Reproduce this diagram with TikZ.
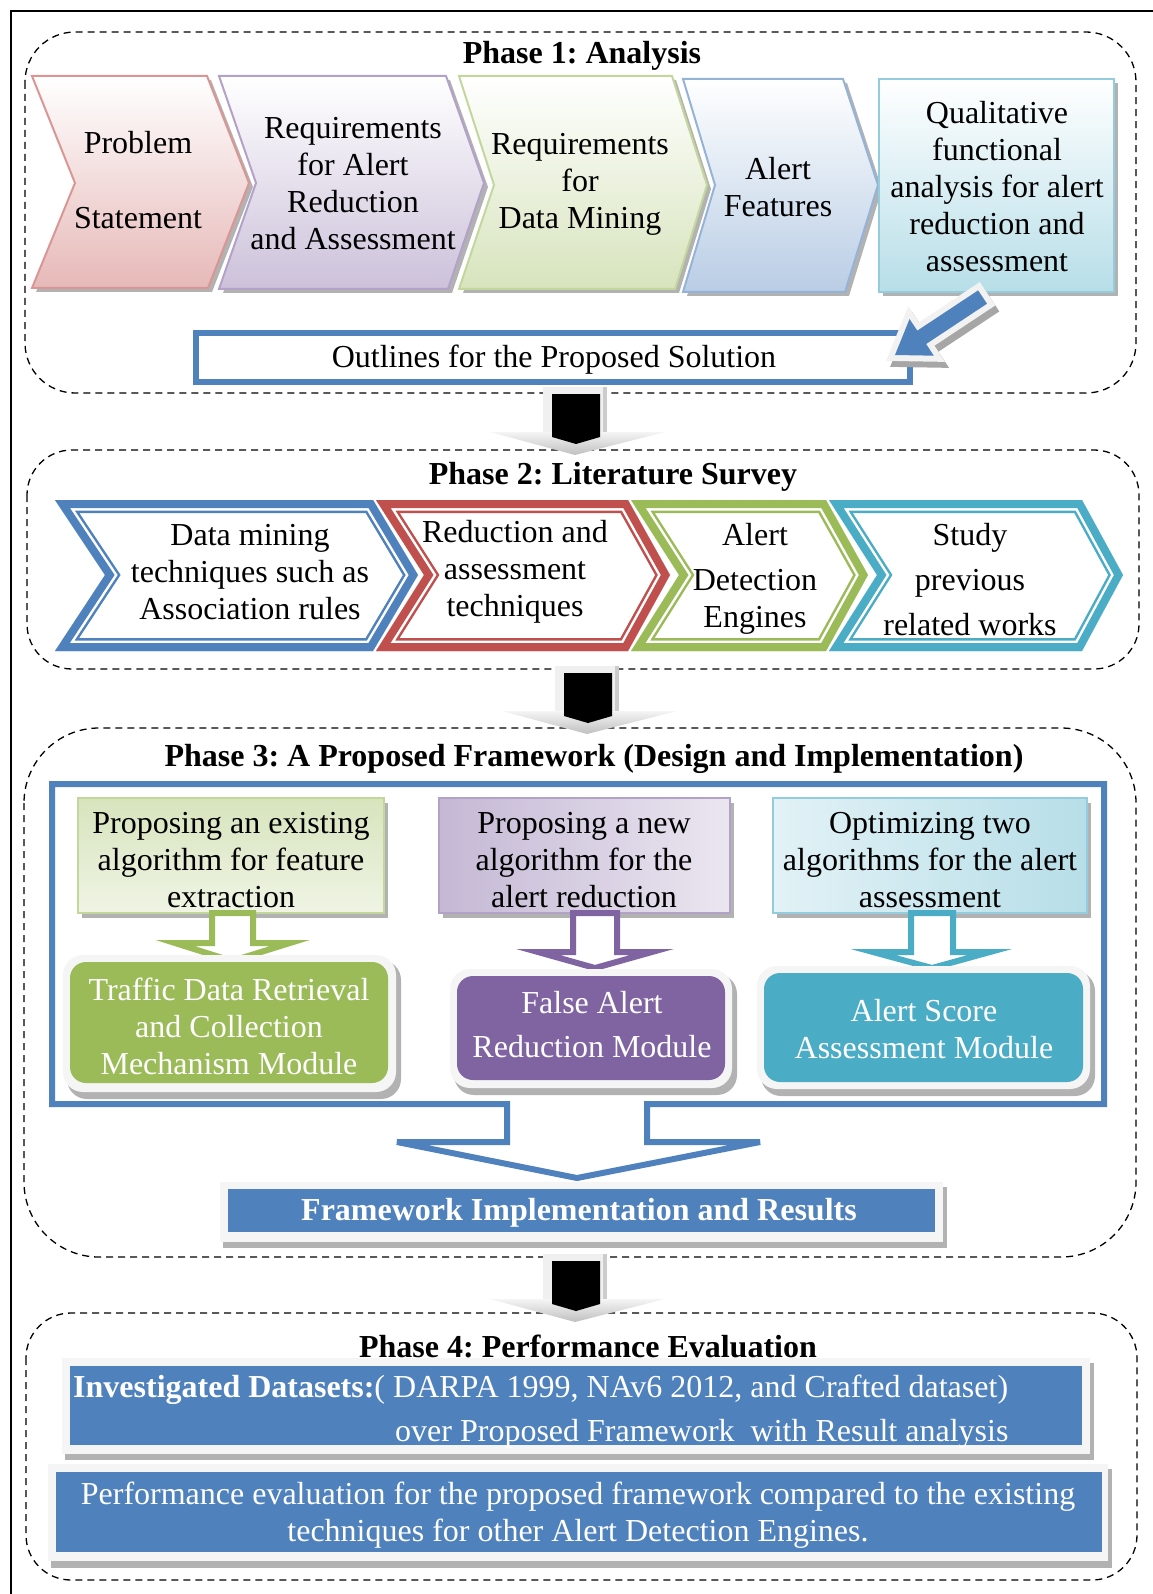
\documentclass[tikz,border=0pt]{standalone}
\usepackage{fontspec}
\setmainfont{Liberation Serif}
\usepackage{tikz}
\usetikzlibrary{positioning}
\frenchspacing
\definecolor{phblue}{HTML}{4F81BD}
\definecolor{phred}{HTML}{C0504D}
\definecolor{phgreen}{HTML}{9BBB59}
\definecolor{phpurple}{HTML}{8064A2}
\definecolor{phcyan}{HTML}{4BACC6}
\definecolor{pkfill}{HTML}{E6B9B8}
\definecolor{pkline}{HTML}{D99694}
\definecolor{pufill}{HTML}{CCC1DA}
\definecolor{puline}{HTML}{B3A2C7}
\definecolor{grfill}{HTML}{D7E4BD}
\definecolor{grline}{HTML}{C3D69B}
\definecolor{blfill}{HTML}{B9CDE5}
\definecolor{blline}{HTML}{95B3D7}
\definecolor{cyfill}{HTML}{B7DEE8}
\definecolor{cyline}{HTML}{93CDDD}

\newcommand{\litchev}[2]{%
  \begin{scope}
  \clip #2;
  \fill[white] #2;
  \draw[#1, line width=26pt, line join=miter] #2;
  \draw[white, line width=21pt, line join=miter] #2;
  \draw[#1, line width=16pt, line join=miter] #2;
  \end{scope}}

\newcommand{\phasearrow}[2]{%
  \begin{scope}[shift={(#1,#2)}]
  \fill[gray!12] (-32,0) rectangle (32,46);
  \fill[gray!40] (28,0) rectangle (32,46);
  \shade[top color=gray!8, bottom color=gray!50] (-85,45) -- (90,45) -- (0,68) -- cycle;
  \fill[black] (-23,7) -- (25,7) -- (25,50) -- (1,57) -- (-23,50) -- cycle;
  \end{scope}}

\begin{document}
\begin{tikzpicture}[x=1pt,y=-1pt,
  lbl/.style={align=center, inner sep=0pt, font=\fontsize{32}{37}\selectfont},
  ttl/.style={align=center, inner sep=0pt, font=\fontsize{32}{37}\selectfont\bfseries},
  phasebox/.style={dash pattern=on 7pt off 5pt, line width=1.3pt},
  shadow/.style={fill=black!30}]
    \useasboundingbox (0,0) rectangle (1152,1594);
    \draw[line width=2.5pt] (11,1610) -- (11,11) -- (1160,11);

    \draw[phasebox, rounded corners=50pt] (25,32) rectangle (1136,393);
    \draw[phasebox, rounded corners=45pt] (27,450) rectangle (1139,669);
    \draw[phasebox, rounded corners=75pt] (24,728) rectangle (1136,1257);
    \draw[phasebox, rounded corners=45pt] (26,1313) rectangle (1137,1580);

    \node[ttl] (ph1) at (582,56) {Phase 1: Analysis};
    \begin{scope}[shift={(4,4)}]
    \fill[black!30] (32,76) -- (207,76) -- (249,183) -- (208,288) -- (32,288) -- (75,183) -- cycle;
    \fill[black!30] (219,76) -- (446,76) -- (484,183) -- (448,289) -- (219,289) -- (256,183) -- cycle;
    \fill[black!30] (459,76) -- (672,76) -- (707,185) -- (675,289) -- (459,289) -- (494,185) -- cycle;
    \fill[black!30] (683,79) -- (843,79) -- (878,185) -- (845,292) -- (683,292) -- (715,185) -- cycle;
    \fill[black!30] (879,79) rectangle (1114,292);
    \end{scope}
    \draw[pkline, line width=2pt, top color=white, bottom color=pkfill] (32,76) -- (207,76) -- (249,183) -- (208,288) -- (32,288) -- (75,183) -- cycle;
    \draw[puline, line width=2pt, top color=white, bottom color=pufill] (219,76) -- (446,76) -- (484,183) -- (448,289) -- (219,289) -- (256,183) -- cycle;
    \draw[grline, line width=2pt, top color=white, bottom color=grfill] (459,76) -- (672,76) -- (707,185) -- (675,289) -- (459,289) -- (494,185) -- cycle;
    \draw[blline, line width=2pt, top color=white, bottom color=blfill] (683,79) -- (843,79) -- (878,185) -- (845,292) -- (683,292) -- (715,185) -- cycle;
    \draw[cyline, line width=2pt, top color=white, bottom color=cyfill] (879,79) rectangle (1114,292);
    \node[lbl] (prob) at (138,180) {Problem\\[38pt]Statement};
    \node[lbl] (reqalert) at (353,184) {Requirements\\for Alert\\Reduction\\and Assessment};
    \node[lbl] (reqdm) at (580,184) {Requirements\\for\\Data Mining};
    \node[lbl] (feat) at (778,187) {Alert\\Features};
    \node[lbl] (qual) at (997,187) {Qualitative\\functional\\analysis for alert\\reduction and\\assessment};

    \draw[phblue, line width=6pt] (196,333) rectangle (910,382);
    \node[lbl] (outl) at (554,360) {Outlines for the Proposed Solution};
    \begin{scope}[shift={(899,361)}, rotate=33.5]
    \draw[black!35, line width=12pt, line join=miter, fill=black!35] (0,0) -- (32,22) -- (32,8) -- (105,8) -- (105,-8) -- (32,-8) -- (32,-22) -- cycle;
    \end{scope}
    \begin{scope}[shift={(895,355)}, rotate=33.5]
    \draw[gray!10, line width=12pt, line join=miter] (0,0) -- (32,22) -- (32,8) -- (105,8) -- (105,-8) -- (32,-8) -- (32,-22) -- cycle;
    \fill[phblue] (0,0) -- (32,22) -- (32,8) -- (105,8) -- (105,-8) -- (32,-8) -- (32,-22) -- cycle;
    \end{scope}

    \node[ttl] (ph2) at (613,477) {Phase 2: Literature Survey};
    \litchev{phblue}{(55,500) -- (373,500) -- (418,575) -- (373,651) -- (55,651) -- (105,575) -- cycle}
    \litchev{phred}{(376,500) -- (628,500) -- (670,575) -- (628,651) -- (376,651) -- (424,575) -- cycle}
    \litchev{phgreen}{(631,500) -- (826,500) -- (868,575) -- (826,651) -- (631,651) -- (679,575) -- cycle}
    \litchev{phcyan}{(829,500) -- (1082,500) -- (1123,575) -- (1082,651) -- (829,651) -- (877,575) -- cycle}
    \node[lbl] (dmt) at (250,572) {Data mining\\techniques such as\\Association rules};
    \node[lbl] (redt) at (515,572) {Reduction and\\assessment\\techniques};
    \node[lbl] (ade) at (755,579) {Alert\\[8pt]Detection\\Engines};
    \node[lbl] (study) at (970,580) {Study\\[8pt]previous\\[8pt]related works};

    \node[ttl] (ph3) at (594,759) {Phase 3: A Proposed Framework (Design and Implementation)};
    \draw[phblue, line width=6pt] (507,1104) -- (52,1104) -- (52,784) -- (1104,784) -- (1104,1104) -- (647,1104) -- (647,1142) -- (760,1142) -- (577,1178) -- (397,1142) -- (507,1142) -- cycle;
    \fill[black!30] (82,803) rectangle (388,918);
    \fill[black!30] (443,803) rectangle (734,918);
    \fill[black!30] (777,803) rectangle (1091,918);
    \draw[grline, line width=1.5pt, top color=grfill, bottom color=grfill!40] (78,798) rectangle (384,913);
    \draw[puline, line width=1.5pt, left color=pufill!90!phpurple, right color=pufill!40] (439,798) rectangle (730,913);
    \draw[cyline, line width=1.5pt, left color=cyfill!40, right color=cyfill] (773,798) rectangle (1087,913);
    \node[lbl] (pe) at (231,860) {Proposing an existing\\algorithm for feature\\extraction};
    \node[lbl] (pn) at (584,860) {Proposing a new\\algorithm for the\\alert reduction};
    \node[lbl] (ot) at (930,860) {Optimizing two\\algorithms for the alert\\assessment};
    \draw[phgreen, line width=6pt, fill=white] (212,913) -- (212,943) -- (175,943) -- (232,961) -- (290,943) -- (253,943) -- (253,913) -- cycle;
    \draw[phpurple, line width=6pt, fill=white] (573,913) -- (573,952) -- (538,952) -- (595,968) -- (652,952) -- (617,952) -- (617,913) -- cycle;
    \draw[phcyan, line width=6pt, fill=white] (911,913) -- (911,952) -- (873,952) -- (932,968) -- (990,952) -- (953,952) -- (953,913) -- cycle;

    \fill[black!30, rounded corners=20pt] (67,960) rectangle (401,1099);
    \fill[gray!8, rounded corners=20pt] (63,955) rectangle (396,1092);
    \fill[phgreen, rounded corners=16pt] (70,962) rectangle (388,1083);
    \fill[black!30, rounded corners=20pt] (454,974) rectangle (737,1095);
    \fill[gray!8, rounded corners=20pt] (450,969) rectangle (732,1088);
    \fill[phpurple, rounded corners=16pt] (457,976) rectangle (725,1080);
    \fill[black!30, rounded corners=20pt] (761,971) rectangle (1095,1096);
    \fill[gray!8, rounded corners=20pt] (757,966) rectangle (1090,1089);
    \fill[phcyan, rounded corners=16pt] (764,973) rectangle (1083,1082);
    \node[lbl, white] (tdr) at (229,1026) {Traffic Data Retrieval\\and Collection\\Mechanism Module};
    \node[lbl, white] (far) at (592,1025) {False Alert\\[7pt]Reduction Module};
    \node[lbl, white] (asm) at (924,1029) {Alert Score\\Assessment Module};

    \fill[black!30] (223,1187) rectangle (947,1248);
    \fill[gray!8] (220,1182) rectangle (943,1242);
    \fill[phblue] (228,1189) rectangle (935,1232);
    \node[ttl, white] (fir) at (579,1213) {Framework Implementation and Results};

    \node[ttl] (ph4) at (588,1346) {Phase 4: Performance Evaluation};
    \fill[black!30] (65,1363) rectangle (1094,1460);
    \fill[gray!8] (62,1358) rectangle (1090,1454);
    \fill[phblue] (70,1366) rectangle (1082,1445);
    \node[lbl, white, anchor=west] (dsa) at (73,1390) {\textbf{Investigated Datasets:}( DARPA 1999, NAv6 2012, and Crafted dataset)};
    \node[lbl, white, anchor=west] (dsb) at (395,1434) {over Proposed Framework\ \ with Result analysis};
    \fill[black!30] (51,1469) rectangle (1112,1568);
    \fill[gray!8] (48,1464) rectangle (1108,1561);
    \fill[phblue] (56,1472) rectangle (1102,1552);
    \node[lbl, white] (perf) at (578,1515) {Performance evaluation for the proposed framework compared to the existing\\techniques for other Alert Detection Engines.};

    \phasearrow{575}{387}
    \phasearrow{587}{666}
    \phasearrow{575}{1254}
\end{tikzpicture}
\end{document}
